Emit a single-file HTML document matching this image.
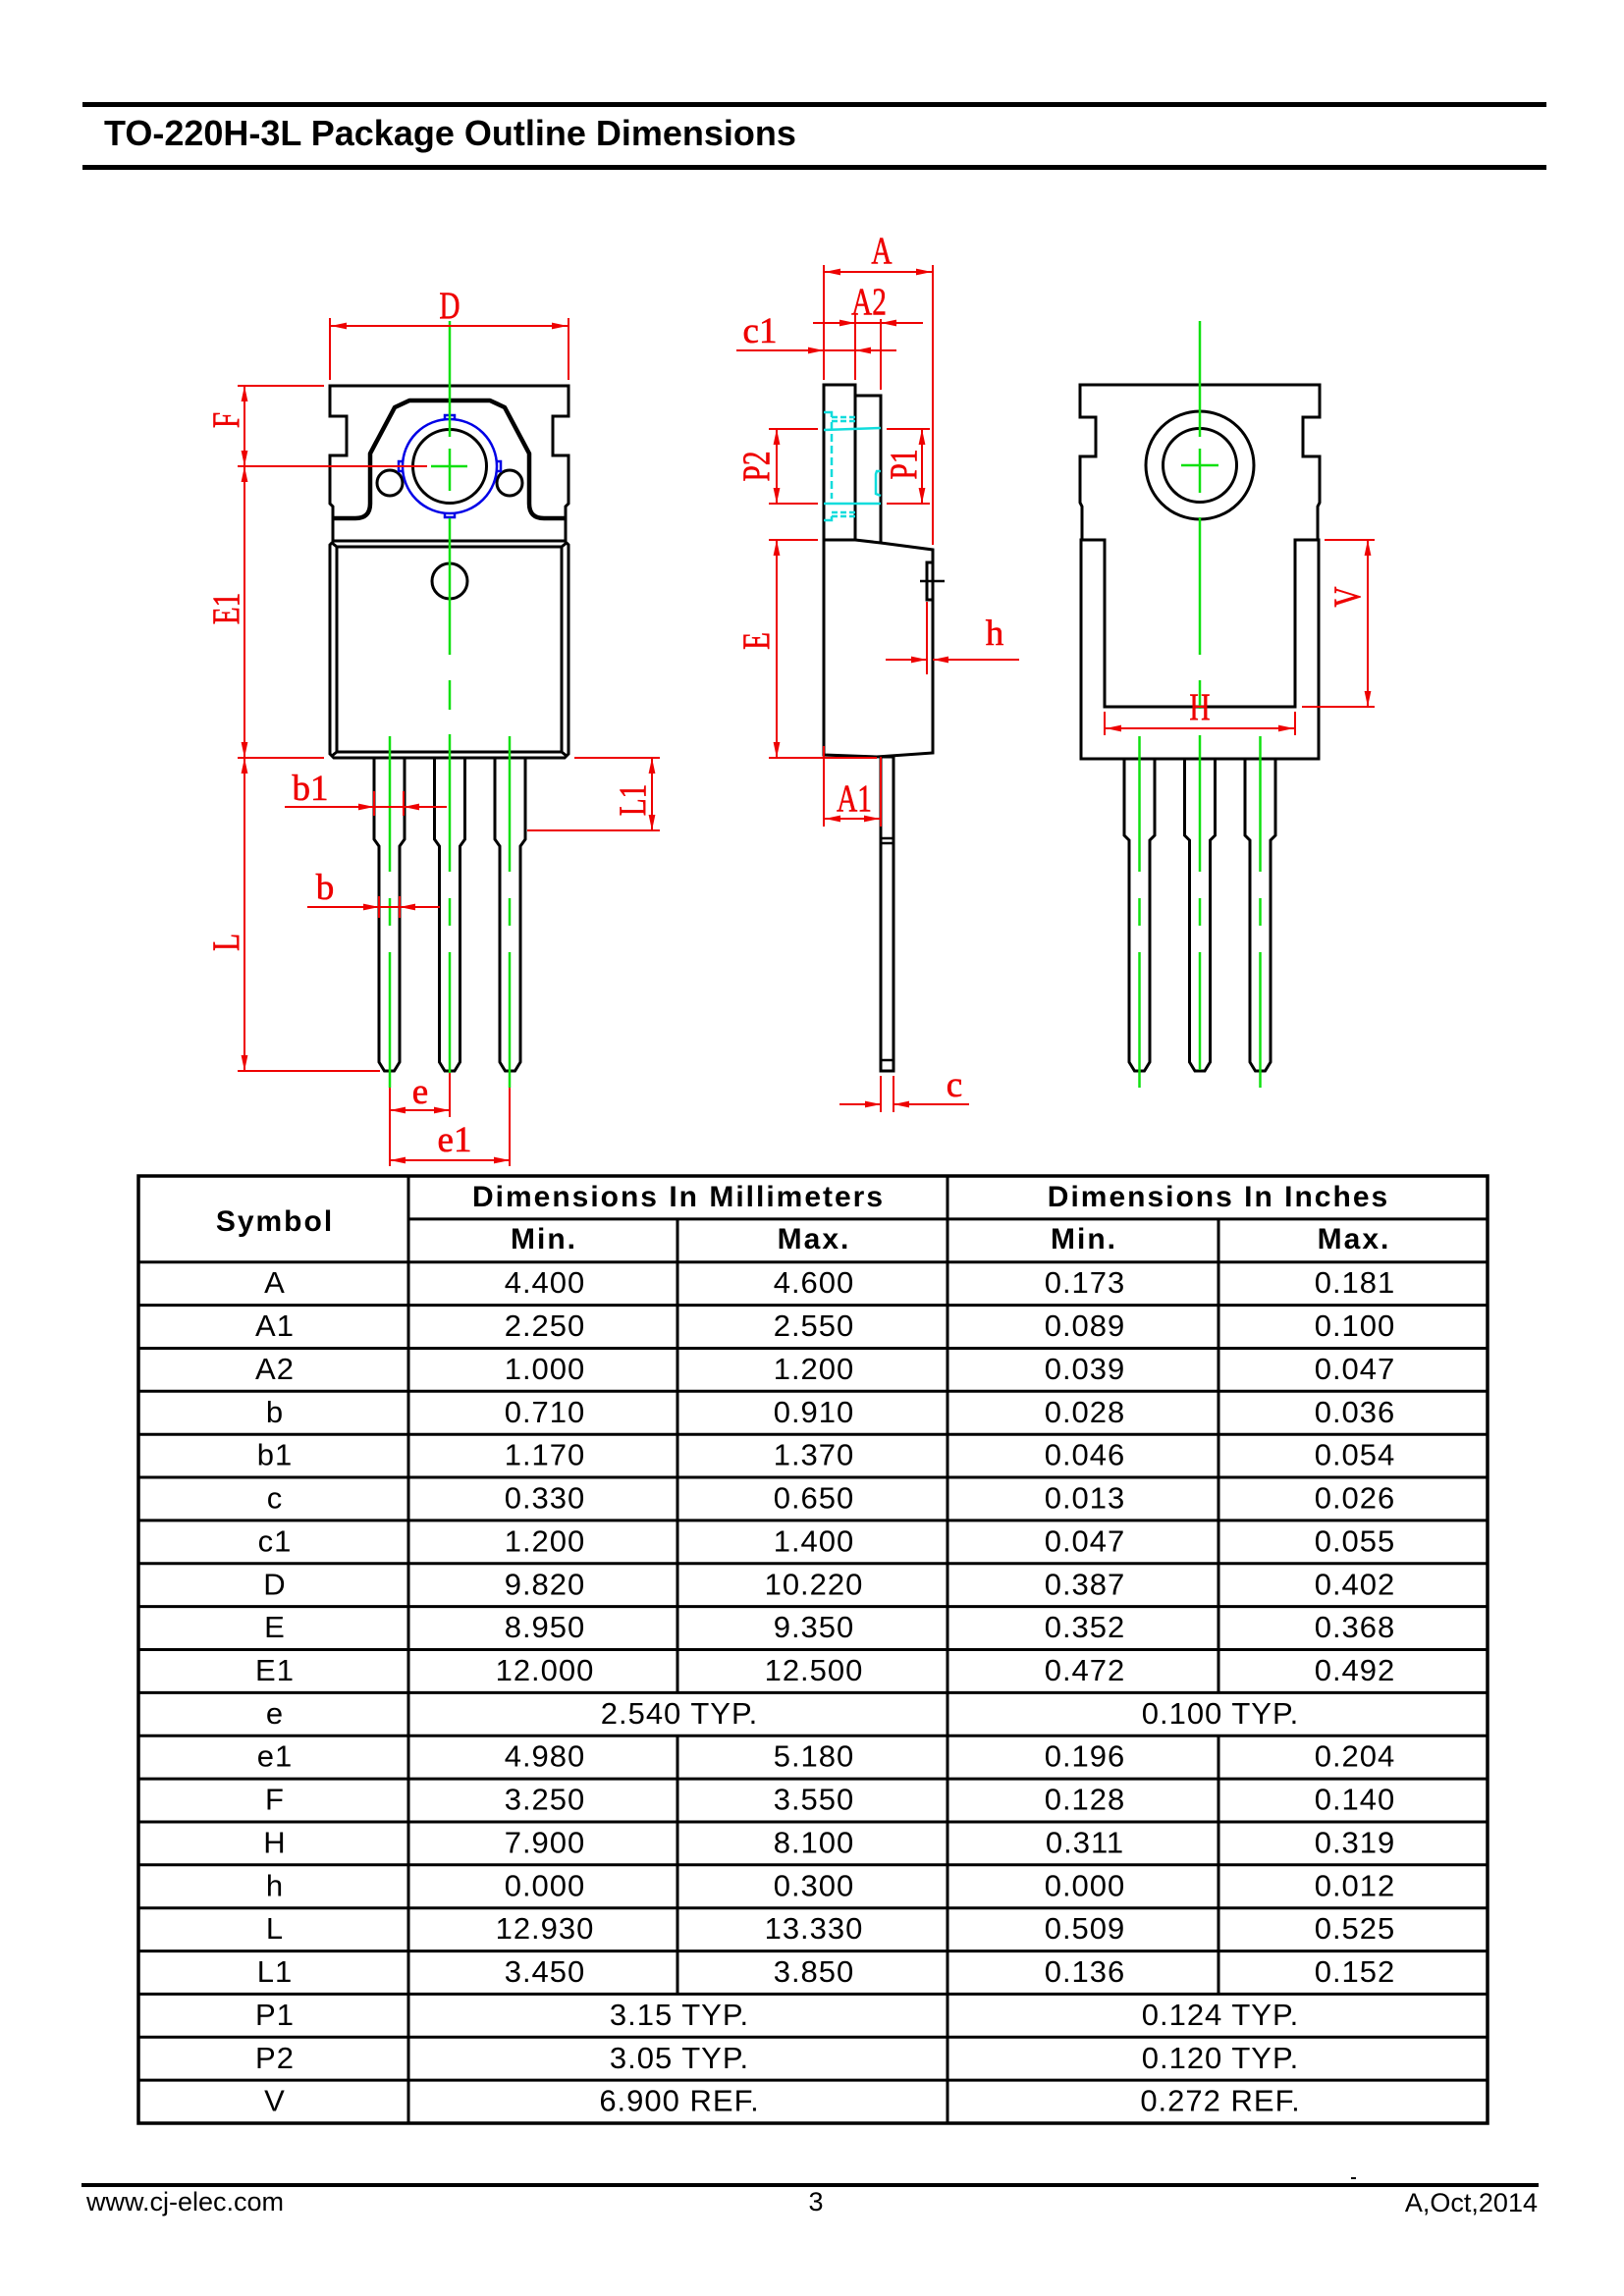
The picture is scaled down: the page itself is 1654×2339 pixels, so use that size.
<!DOCTYPE html>
<html>
<head>
<meta charset="utf-8">
<style>
html,body{margin:0;padding:0;background:#fff;}
svg{display:block;}
.k{fill:none;stroke:#000;stroke-width:3;stroke-linejoin:miter;}
.g{stroke:#10e010;stroke-width:2.5;fill:none;}
.r{stroke:#ee0000;stroke-width:2;fill:none;}
.ra{stroke:#ee0000;stroke-width:2;fill:none;marker-end:url(#ar);}
.rb{stroke:#ee0000;stroke-width:2;fill:none;marker-start:url(#ar);marker-end:url(#ar);}
.lb{font-family:"Liberation Serif",serif;fill:#ee0000;stroke:#ee0000;stroke-width:0.6;font-size:39px;text-anchor:middle;}
.ll{font-family:"Liberation Serif",serif;fill:#ee0000;stroke:#ee0000;stroke-width:0.6;font-size:37px;text-anchor:middle;}
.t{font-family:"Liberation Sans",Arial,sans-serif;font-size:31px;letter-spacing:1px;text-anchor:middle;fill:#000;}
.tb{font-family:"Liberation Sans",Arial,sans-serif;font-size:30px;letter-spacing:2px;text-anchor:middle;font-weight:bold;fill:#000;}
.tl{stroke:#000;stroke-width:3;}
.f{font-family:"Liberation Sans",Arial,sans-serif;font-size:27px;fill:#000;}
</style>
</head>
<body>
<svg width="1654" height="2339" viewBox="0 0 1654 2339" xmlns="http://www.w3.org/2000/svg">
<defs>
<marker id="ar" viewBox="0 0 16 8" refX="16" refY="4" markerWidth="16" markerHeight="8" markerUnits="userSpaceOnUse" orient="auto-start-reverse">
<path d="M0,0.6 L16,4 L0,7.4 Z" fill="#ee0000"/>
</marker>
</defs>

<!-- Header -->
<rect x="84" y="104" width="1491" height="5" fill="#000"/>
<text x="106" y="148" font-family="Liberation Sans, Arial, sans-serif" font-weight="bold" font-size="36">TO-220H-3L Package Outline Dimensions</text>
<rect x="84" y="168" width="1491" height="5" fill="#000"/>

<!-- ============ FRONT VIEW ============ -->
<path class="k" d="M339,551 L339,516 L336,513 L336,464 L353,464 L353,424 L336,424 L336,393 L579,393 L579,424 L563,424 L563,464 L579,464 L579,513 L576,516 L576,551"/>
<path d="M340,528 L362,528 Q377,528 377,513 L377,462 L402,415 L417,408 L499,408 L514,415 L539,462 L539,513 Q539,528 554,528 L576,528" fill="none" stroke="#000" stroke-width="4.5" stroke-linejoin="round"/>
<circle cx="458" cy="475" r="37.5" class="k"/>
<circle cx="397" cy="492" r="13" class="k"/>
<circle cx="519" cy="492" r="13" class="k"/>
<circle cx="458" cy="475" r="48" fill="none" stroke="#0000e6" stroke-width="2.5"/>
<path d="M453,427 L453,423 L463,423 L463,427 M453,523 L453,527 L463,527 L463,523 M410,470 L406,470 L406,480 L410,480 M506,470 L510,470 L510,480 L506,480" fill="none" stroke="#0000e6" stroke-width="2.5"/>
<path class="k" d="M336,555 L340,551 L575,551 L579,555 L579,768 L575,772 L340,772 L336,768 Z"/>
<rect x="343" y="557" width="229" height="209" class="k"/>
<path class="k" d="M338,553 L343,557 M577,553 L572,557 M338,770 L343,766 M577,770 L572,766"/>
<circle cx="458" cy="592" r="18" class="k"/>
<path class="k" fill="#fff" d="M381,772 L381,855 L386,862 L386,1082 L391.5,1091 L401.5,1091 L407,1082 L407,862 L412,855 L412,772"/>
<path class="k" d="M442.5,772 L442.5,855 L447.5,862 L447.5,1082 L453,1091 L463,1091 L468.5,1082 L468.5,862 L473.5,855 L473.5,772"/>
<path class="k" d="M504,772 L504,855 L509,862 L509,1082 L514.5,1091 L524.5,1091 L530,1082 L530,862 L535,855 L535,772"/>

<path class="g" d="M458,327 L458,445 M458,457 L458,500 M439,475 L476,475 M458,528 L458,667 M458,693 L458,723 M458,748 L458,888 M458,915 L458,943 M458,970 L458,1093"/>
<path class="g" d="M397,750 L397,888 M397,915 L397,943 M397,970 L397,1108"/>
<path class="g" d="M519,750 L519,888 M519,915 L519,943 M519,970 L519,1108"/>

<line class="r" x1="336" y1="324" x2="336" y2="387"/>
<line class="r" x1="579" y1="324" x2="579" y2="387"/>
<line class="rb" x1="337" y1="332" x2="578" y2="332"/>
<text class="lb" transform="translate(458,324) scale(0.75,1)">D</text>

<line class="r" x1="242" y1="393" x2="330" y2="393"/>
<line class="r" x1="242" y1="475" x2="435" y2="475"/>
<line class="r" x1="242" y1="772" x2="330" y2="772"/>
<line class="r" x1="242" y1="1091" x2="387" y2="1091"/>
<line class="rb" x1="249" y1="393" x2="249" y2="475"/>
<line class="rb" x1="249" y1="475" x2="249" y2="772"/>
<line class="rb" x1="249" y1="772" x2="249" y2="1091"/>
<text class="lb" transform="translate(243,428) rotate(-90) scale(0.75,1)">F</text>
<text class="lb" transform="translate(243,620) rotate(-90) scale(0.75,1)">E1</text>
<text class="lb" transform="translate(243,960) rotate(-90) scale(0.75,1)">L</text>

<line class="r" x1="585" y1="772" x2="672" y2="772"/>
<line class="r" x1="537" y1="846" x2="672" y2="846"/>
<line class="rb" x1="664" y1="772" x2="664" y2="846"/>
<text class="lb" transform="translate(657,815) rotate(-90) scale(0.75,1)">L1</text>

<path class="ra" d="M290,822 L381,822"/>
<path class="ra" d="M455,822 L411,822"/>
<line class="r" x1="381" y1="822" x2="411" y2="822"/>
<line class="r" x1="381" y1="806" x2="381" y2="831"/>
<line class="r" x1="411" y1="806" x2="411" y2="831"/>
<text class="ll" x="316" y="815">b1</text>

<path class="ra" d="M313,924 L386,924"/>
<path class="ra" d="M448,924 L407,924"/>
<line class="r" x1="386" y1="924" x2="407" y2="924"/>
<line class="r" x1="386" y1="913" x2="386" y2="935"/>
<line class="r" x1="407" y1="913" x2="407" y2="935"/>
<text class="ll" x="331" y="916">b</text>

<line class="r" x1="397" y1="1108" x2="397" y2="1188"/>
<line class="r" x1="458" y1="1093" x2="458" y2="1138"/>
<line class="r" x1="519" y1="1108" x2="519" y2="1188"/>
<line class="rb" x1="397" y1="1131" x2="458" y2="1131"/>
<line class="rb" x1="397" y1="1182" x2="519" y2="1182"/>
<text class="ll" x="428" y="1124">e</text>
<text class="ll" x="463" y="1173">e1</text>

<!-- ============ SIDE VIEW ============ -->
<rect x="839" y="392" width="32" height="158" class="k"/>
<path class="k" d="M871,403 L897,403 L897,553"/>
<path class="k" d="M839,550 L839,769 L893,771 L950,767 L950,560 L897,553 L871,550"/>
<rect x="944" y="573" width="6" height="38" class="k" stroke-width="2.5"/>
<line x1="937" y1="592" x2="962" y2="592" stroke="#000" stroke-width="2.5"/>
<rect x="897" y="771" width="13" height="320" class="k"/>
<line x1="897" y1="854" x2="910" y2="854" stroke="#000" stroke-width="2.5"/>
<line x1="897" y1="859" x2="910" y2="859" stroke="#000" stroke-width="2.5"/>
<line x1="897" y1="1080" x2="910" y2="1080" stroke="#000" stroke-width="2.5"/>

<g stroke="#10dcdc" stroke-width="2.5" fill="none">
<path d="M839,420 L847,420 L847,425"/>
<path d="M847,425 L872,425 M847,429 L872,429" stroke-dasharray="6,3"/>
<path d="M839,438 L897,436"/>
<path d="M847,430 L847,508" stroke-dasharray="8,4"/>
<path d="M839,513 L897,513"/>
<path d="M847,522 L872,522 M847,526 L872,526" stroke-dasharray="6,3"/>
<path d="M847,526 L847,530 L839,530"/>
<path d="M897,480 L893,480 L892,483 L892,503 L897,505"/>
</g>

<line class="r" x1="839" y1="270" x2="839" y2="387"/>
<line class="r" x1="950" y1="270" x2="950" y2="555"/>
<line class="rb" x1="840" y1="277" x2="949" y2="277"/>
<text class="lb" transform="translate(898,268) scale(0.75,1)">A</text>

<line class="r" x1="871" y1="320" x2="871" y2="387"/>
<line class="r" x1="897" y1="325" x2="897" y2="397"/>
<path class="ra" d="M828,329 L871,329"/>
<path class="ra" d="M940,329 L897,329"/>
<line class="r" x1="871" y1="329" x2="897" y2="329"/>
<text class="lb" transform="translate(885,320) scale(0.75,1)">A2</text>

<path class="ra" d="M750,357 L839,357"/>
<path class="ra" d="M913,357 L871,357"/>
<line class="r" x1="839" y1="357" x2="871" y2="357"/>
<text class="ll" x="774" y="349">c1</text>

<line class="r" x1="783" y1="437" x2="833" y2="437"/>
<line class="r" x1="783" y1="513" x2="833" y2="513"/>
<line class="rb" x1="791" y1="437" x2="791" y2="513"/>
<text class="lb" transform="translate(783,475) rotate(-90) scale(0.75,1)">P2</text>

<line class="r" x1="903" y1="437" x2="947" y2="437"/>
<line class="r" x1="903" y1="513" x2="947" y2="513"/>
<line class="rb" x1="939" y1="437" x2="939" y2="513"/>
<text class="lb" transform="translate(933,473) rotate(-90) scale(0.75,1)">P1</text>

<line class="r" x1="783" y1="550" x2="833" y2="550"/>
<line class="r" x1="783" y1="772" x2="893" y2="772"/>
<line class="rb" x1="791" y1="550" x2="791" y2="772"/>
<text class="lb" transform="translate(783,653) rotate(-90) scale(0.75,1)">E</text>

<line class="r" x1="944" y1="613" x2="944" y2="687"/>
<path class="ra" d="M902,672 L944,672"/>
<path class="ra" d="M1038,672 L950,672"/>
<text class="ll" x="1013" y="657">h</text>

<line class="r" x1="839" y1="760" x2="839" y2="842"/>
<line class="r" x1="897" y1="771" x2="897" y2="842"/>
<line class="rb" x1="840" y1="834" x2="896" y2="834"/>
<text class="lb" transform="translate(870,826) scale(0.75,1)">A1</text>

<line class="r" x1="897" y1="1096" x2="897" y2="1133"/>
<line class="r" x1="910" y1="1096" x2="910" y2="1133"/>
<path class="ra" d="M855,1125 L897,1125"/>
<path class="ra" d="M987,1125 L910,1125"/>
<text class="ll" x="972" y="1117">c</text>

<!-- ============ RIGHT VIEW ============ -->
<path class="k" d="M1101,773 L1101,550 L1102,550 L1102,516 L1100,512 L1100,465 L1116,465 L1116,425 L1100,425 L1100,392 L1344,392 L1344,425 L1327,425 L1327,465 L1344,465 L1344,512 L1342,516 L1342,550 L1343,550 L1343,773 Z"/>
<path class="k" d="M1101,550 L1125,550 L1125,720 L1319,720 L1319,550 L1343,550"/>
<circle cx="1222" cy="474" r="55" class="k"/>
<circle cx="1222" cy="474" r="37.5" class="k"/>
<path class="k" d="M1145,773 L1145,851 L1150,856 L1150,1082 L1155.5,1091 L1165.5,1091 L1171,1082 L1171,856 L1176,851 L1176,773"/>
<path class="k" d="M1206.5,773 L1206.5,851 L1211.5,856 L1211.5,1082 L1217,1091 L1227,1091 L1232.5,1082 L1232.5,856 L1237.5,851 L1237.5,773"/>
<path class="k" d="M1268,773 L1268,851 L1273,856 L1273,1082 L1278.5,1091 L1288.5,1091 L1294,1082 L1294,856 L1299,851 L1299,773"/>

<path class="g" d="M1222,327 L1222,445 M1222,457 L1222,502 M1203,474 L1241,474 M1222,527 L1222,667 M1222,693 L1222,722 M1222,749 L1222,888 M1222,915 L1222,943 M1222,970 L1222,1090"/>
<path class="g" d="M1160.5,750 L1160.5,888 M1160.5,915 L1160.5,943 M1160.5,970 L1160.5,1108"/>
<path class="g" d="M1283.5,750 L1283.5,888 M1283.5,915 L1283.5,943 M1283.5,970 L1283.5,1108"/>

<line class="r" x1="1349" y1="550" x2="1400" y2="550"/>
<line class="r" x1="1326" y1="720" x2="1400" y2="720"/>
<line class="rb" x1="1393" y1="550" x2="1393" y2="720"/>
<text class="lb" transform="translate(1385,608) rotate(-90) scale(0.75,1)">V</text>

<line class="r" x1="1125" y1="725" x2="1125" y2="749"/>
<line class="r" x1="1319" y1="725" x2="1319" y2="749"/>
<line class="rb" x1="1126" y1="742" x2="1318" y2="742"/>
<text class="lb" transform="translate(1222,733) scale(0.75,1)">H</text>

<!-- ============ TABLE ============ -->
<g>
<rect x="141" y="1198" width="1374" height="965" fill="none" stroke="#000" stroke-width="3.5"/>
<line class="tl" x1="416" y1="1241.9" x2="1515" y2="1241.9"/>
<line class="tl" x1="141" y1="1285.7" x2="1515" y2="1285.7"/>
<line class="tl" x1="141" y1="1329.6" x2="1515" y2="1329.6"/>
<line class="tl" x1="141" y1="1373.5" x2="1515" y2="1373.5"/>
<line class="tl" x1="141" y1="1417.3" x2="1515" y2="1417.3"/>
<line class="tl" x1="141" y1="1461.2" x2="1515" y2="1461.2"/>
<line class="tl" x1="141" y1="1505.0" x2="1515" y2="1505.0"/>
<line class="tl" x1="141" y1="1548.9" x2="1515" y2="1548.9"/>
<line class="tl" x1="141" y1="1592.8" x2="1515" y2="1592.8"/>
<line class="tl" x1="141" y1="1636.6" x2="1515" y2="1636.6"/>
<line class="tl" x1="141" y1="1680.5" x2="1515" y2="1680.5"/>
<line class="tl" x1="141" y1="1724.4" x2="1515" y2="1724.4"/>
<line class="tl" x1="141" y1="1768.2" x2="1515" y2="1768.2"/>
<line class="tl" x1="141" y1="1812.1" x2="1515" y2="1812.1"/>
<line class="tl" x1="141" y1="1856.0" x2="1515" y2="1856.0"/>
<line class="tl" x1="141" y1="1899.8" x2="1515" y2="1899.8"/>
<line class="tl" x1="141" y1="1943.7" x2="1515" y2="1943.7"/>
<line class="tl" x1="141" y1="1987.6" x2="1515" y2="1987.6"/>
<line class="tl" x1="141" y1="2031.4" x2="1515" y2="2031.4"/>
<line class="tl" x1="141" y1="2075.3" x2="1515" y2="2075.3"/>
<line class="tl" x1="141" y1="2119.1" x2="1515" y2="2119.1"/>
<line class="tl" x1="416" y1="1198" x2="416" y2="2163"/>
<line class="tl" x1="965" y1="1198" x2="965" y2="2163"/>
<line class="tl" x1="690" y1="1241.9" x2="690" y2="1724.4"/>
<line class="tl" x1="690" y1="1768.2" x2="690" y2="2031.4"/>
<line class="tl" x1="1241" y1="1241.9" x2="1241" y2="1724.4"/>
<line class="tl" x1="1241" y1="1768.2" x2="1241" y2="2031.4"/>

<text class="tb" x="280" y="1254">Symbol</text>
<text class="tb" x="691" y="1229">Dimensions In Millimeters</text>
<text class="tb" x="1241" y="1229">Dimensions In Inches</text>
<text class="tb" x="554" y="1272">Min.</text>
<text class="tb" x="829" y="1272">Max.</text>
<text class="tb" x="1104" y="1272">Min.</text>
<text class="tb" x="1379" y="1272">Max.</text>

<g>
<text class="t" x="280" y="1317">A</text><text class="t" x="555" y="1317">4.400</text><text class="t" x="829" y="1317">4.600</text><text class="t" x="1105" y="1317">0.173</text><text class="t" x="1380" y="1317">0.181</text>
<text class="t" x="280" y="1361">A1</text><text class="t" x="555" y="1361">2.250</text><text class="t" x="829" y="1361">2.550</text><text class="t" x="1105" y="1361">0.089</text><text class="t" x="1380" y="1361">0.100</text>
<text class="t" x="280" y="1405">A2</text><text class="t" x="555" y="1405">1.000</text><text class="t" x="829" y="1405">1.200</text><text class="t" x="1105" y="1405">0.039</text><text class="t" x="1380" y="1405">0.047</text>
<text class="t" x="280" y="1449">b</text><text class="t" x="555" y="1449">0.710</text><text class="t" x="829" y="1449">0.910</text><text class="t" x="1105" y="1449">0.028</text><text class="t" x="1380" y="1449">0.036</text>
<text class="t" x="280" y="1492.7">b1</text><text class="t" x="555" y="1492.7">1.170</text><text class="t" x="829" y="1492.7">1.370</text><text class="t" x="1105" y="1492.7">0.046</text><text class="t" x="1380" y="1492.7">0.054</text>
<text class="t" x="280" y="1536.5">c</text><text class="t" x="555" y="1536.5">0.330</text><text class="t" x="829" y="1536.5">0.650</text><text class="t" x="1105" y="1536.5">0.013</text><text class="t" x="1380" y="1536.5">0.026</text>
<text class="t" x="280" y="1580.4">c1</text><text class="t" x="555" y="1580.4">1.200</text><text class="t" x="829" y="1580.4">1.400</text><text class="t" x="1105" y="1580.4">0.047</text><text class="t" x="1380" y="1580.4">0.055</text>
<text class="t" x="280" y="1624.3">D</text><text class="t" x="555" y="1624.3">9.820</text><text class="t" x="829" y="1624.3">10.220</text><text class="t" x="1105" y="1624.3">0.387</text><text class="t" x="1380" y="1624.3">0.402</text>
<text class="t" x="280" y="1668.1">E</text><text class="t" x="555" y="1668.1">8.950</text><text class="t" x="829" y="1668.1">9.350</text><text class="t" x="1105" y="1668.1">0.352</text><text class="t" x="1380" y="1668.1">0.368</text>
<text class="t" x="280" y="1712">E1</text><text class="t" x="555" y="1712">12.000</text><text class="t" x="829" y="1712">12.500</text><text class="t" x="1105" y="1712">0.472</text><text class="t" x="1380" y="1712">0.492</text>
<text class="t" x="280" y="1755.9">e</text><text class="t" x="692" y="1755.9">2.540 TYP.</text><text class="t" x="1243" y="1755.9">0.100 TYP.</text>
<text class="t" x="280" y="1799.7">e1</text><text class="t" x="555" y="1799.7">4.980</text><text class="t" x="829" y="1799.7">5.180</text><text class="t" x="1105" y="1799.7">0.196</text><text class="t" x="1380" y="1799.7">0.204</text>
<text class="t" x="280" y="1843.6">F</text><text class="t" x="555" y="1843.6">3.250</text><text class="t" x="829" y="1843.6">3.550</text><text class="t" x="1105" y="1843.6">0.128</text><text class="t" x="1380" y="1843.6">0.140</text>
<text class="t" x="280" y="1887.5">H</text><text class="t" x="555" y="1887.5">7.900</text><text class="t" x="829" y="1887.5">8.100</text><text class="t" x="1105" y="1887.5">0.311</text><text class="t" x="1380" y="1887.5">0.319</text>
<text class="t" x="280" y="1931.3">h</text><text class="t" x="555" y="1931.3">0.000</text><text class="t" x="829" y="1931.3">0.300</text><text class="t" x="1105" y="1931.3">0.000</text><text class="t" x="1380" y="1931.3">0.012</text>
<text class="t" x="280" y="1975.2">L</text><text class="t" x="555" y="1975.2">12.930</text><text class="t" x="829" y="1975.2">13.330</text><text class="t" x="1105" y="1975.2">0.509</text><text class="t" x="1380" y="1975.2">0.525</text>
<text class="t" x="280" y="2019.1">L1</text><text class="t" x="555" y="2019.1">3.450</text><text class="t" x="829" y="2019.1">3.850</text><text class="t" x="1105" y="2019.1">0.136</text><text class="t" x="1380" y="2019.1">0.152</text>
<text class="t" x="280" y="2062.9">P1</text><text class="t" x="692" y="2062.9">3.15 TYP.</text><text class="t" x="1243" y="2062.9">0.124 TYP.</text>
<text class="t" x="280" y="2106.8">P2</text><text class="t" x="692" y="2106.8">3.05 TYP.</text><text class="t" x="1243" y="2106.8">0.120 TYP.</text>
<text class="t" x="280" y="2150.6">V</text><text class="t" x="692" y="2150.6">6.900 REF.</text><text class="t" x="1243" y="2150.6">0.272 REF.</text>
</g>
</g>

<!-- Footer -->
<rect x="1376" y="2218" width="5" height="2" fill="#000"/>
<rect x="83" y="2224" width="1484" height="4" fill="#000"/>
<text class="f" x="88" y="2252">www.cj-elec.com</text>
<text class="f" x="831" y="2252" text-anchor="middle">3</text>
<text class="f" x="1566" y="2253" text-anchor="end">A,Oct,2014</text>
</svg>
</body>
</html>
